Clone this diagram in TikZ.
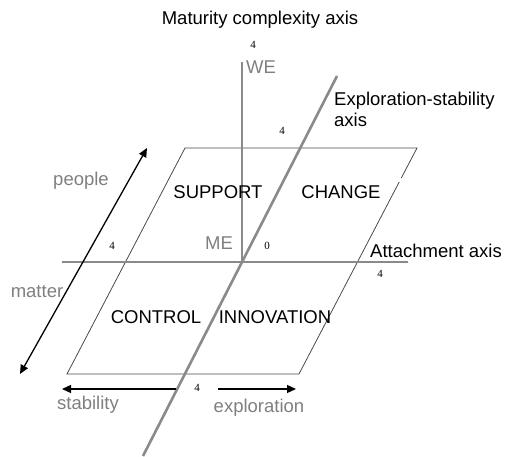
\documentclass[tikz,border=0pt]{standalone}
\usepackage{fontspec}
\setmainfont{Liberation Sans}
\newfontfamily\numfont{Liberation Serif}
\usetikzlibrary{arrows.meta}
\definecolor{axisgray}{HTML}{8A8A8A}
\definecolor{labgray}{HTML}{7F7F7F}
\definecolor{edgegray}{HTML}{4A4A4A}
\begin{document}
\begin{tikzpicture}[x=1pt,y=-1pt,
  axisline/.style={draw=axisgray,line width=2.6pt},
  edge/.style={draw=edgegray,line width=0.8pt},
  blackarrow/.style={draw=black,line width=1.3pt,-{Triangle[length=9pt,width=8pt]}},
  dblarrow/.style={draw=black,line width=1.3pt,{Triangle[length=9pt,width=8pt]}-{Triangle[length=9pt,width=8pt]}},
  lab/.style={inner sep=0pt,font=\fontsize{18.5}{21}\selectfont},
  glab/.style={lab,text=labgray},
  num/.style={inner sep=0pt,font=\numfont\fontsize{11}{12}\selectfont}]
\useasboundingbox (0,0) rectangle (512,457);
% coordinates
\coordinate (O) at (242,262);
\coordinate (Vtop) at (242,62);
\coordinate (Hl) at (62,262);
\coordinate (Hr) at (408,262);
\coordinate (Dt) at (337,76);
\coordinate (Db) at (143,456);
\coordinate (P1) at (185,148);
\coordinate (P2) at (417,148);
\coordinate (P3) at (299,374);
\coordinate (P4) at (67,374);
\coordinate (G1) at (401.3,178);
\coordinate (G2) at (399.2,182);
\coordinate (Pa) at (147,148);
\coordinate (Pb) at (20,374);
\coordinate (S1) at (176,389);
\coordinate (S2) at (62,389);
\coordinate (E1) at (218,389);
\coordinate (E2) at (296,389);
% parallelogram
\draw[edge] (G2) -- (P3) -- (P4) -- (P1) -- (P2) -- (G1);
% axes
\draw[axisline] (O) -- (Vtop);
\draw[axisline] (Hl) -- (Hr);
\draw[axisline] (Dt) -- (Db);
% arrows
\draw[dblarrow] (Pb) -- (Pa);
\draw[blackarrow] (S1) -- (S2);
\draw[blackarrow] (E1) -- (E2);
% labels
\node[lab] (mat) at (260,20) {Maturity complexity axis};
\node[num] (n1) at (253,45) {4};
\node[glab,anchor=west] (we) at (246,67) {WE};
\node[lab,anchor=west,align=left] (expl) at (334,109) {Exploration-stability\\axis};
\node[num] (n2) at (282,131) {4};
\node[glab] (people) at (81,181) {people};
\node[lab] (support) at (218,192) {SUPPORT};
\node[lab] (change) at (341,192) {CHANGE};
\node[glab] (me) at (219,243) {ME};
\node[num] (n3) at (112,246) {4};
\node[num] (n4) at (267,246) {0};
\node[lab,anchor=west] (att) at (370,251) {Attachment axis};
\node[num] (n5) at (380,274) {4};
\node[glab] (matter) at (37,292) {matter};
\node[lab] (control) at (156,317) {CONTROL};
\node[lab] (innov) at (275,317) {INNOVATION};
\node[num] (n6) at (197,388) {4};
\node[glab] (stab) at (88,405) {stability};
\node[glab] (explo) at (259,408) {exploration};
\end{tikzpicture}
\end{document}
